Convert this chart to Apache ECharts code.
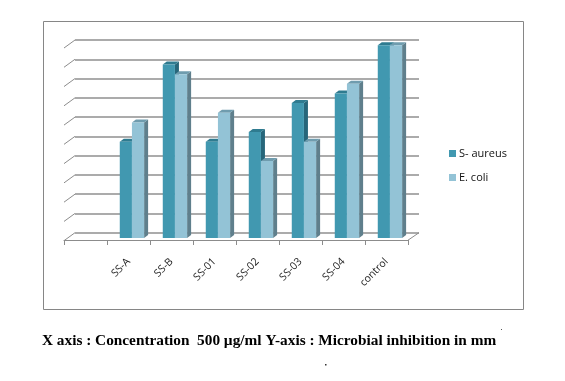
<!DOCTYPE html>
<html><head><meta charset="utf-8">
<style>html,body{margin:0;padding:0;background:#fff}#c{width:565px;height:381px}</style>
<script src="https://cdn.jsdelivr.net/npm/echarts@6/dist/echarts.min.js"></script>
</head><body><div id="c"></div>
<script>
const categories = ['', 'SS-A', 'SS-B', 'SS-01', 'SS-02', 'SS-03', 'SS-04', 'control'];
const sAureus = [null, 5, 9, 5, 5.5, 7, 7.5, 10];
const eColi = [null, 6, 8.5, 6.5, 4, 5, 8, 10];
const gridValues = [0, 1, 2, 3, 4, 5, 6, 7, 8, 9, 10];
const caption = 'X axis : Concentration  500 µg/ml Y-axis : Microbial inhibition in mm';

const DX = 4, DY = 3;
function bar(colors, side) {
  return function (params, api) {
    if (api.value(1) == null || isNaN(api.value(1))) return;
    const band = api.size([1, 0])[0];
    const w = band * 0.283;
    const p0 = api.coord([api.value(0), 0]);
    const p1 = api.coord([api.value(0), api.value(1)]);
    const cx = p0[0] + band * 0.08;
    const x = side < 0 ? cx - w : cx;
    const yb = p0[1] - 2, yt = p1[1] - 2;
    return { type: 'group', children: [
      { type: 'polygon', shape: { points: [[x + w, yt], [x + w + DX, yt - DY], [x + w + DX, yb - DY], [x + w, yb]] }, style: { fill: colors[2] } },
      { type: 'polygon', shape: { points: [[x, yt], [x + DX, yt - DY], [x + w + DX, yt - DY], [x + w, yt]] }, style: { fill: colors[1] } },
      { type: 'rect', shape: { x: x, y: yt, width: w, height: yb - yt }, style: { fill: colors[0] } }
    ] };
  };
}
function wallDiagonal(params, api) {
  const band = api.size([1, 0])[0];
  const c = api.coord([0, api.value(0)]);
  const p = [c[0] - band / 2, c[1]];
  const lines = [{ type: 'line', shape: { x1: p[0] - 11, y1: p[1] + 8, x2: p[0], y2: p[1] }, style: { stroke: '#8c8c8c', lineWidth: 1 } }];
  if (api.value(0) === 0) {
    const r = p[0] + band * categories.length;
    lines.push({ type: 'line', shape: { x1: r - 11, y1: p[1] + 7.5, x2: r, y2: p[1] }, style: { stroke: '#8c8c8c', lineWidth: 1 } });
  }
  return { type: 'group', children: lines };
}
const chart = echarts.init(document.getElementById('c'), null, { renderer: 'canvas' });
chart.setOption({
  animation: false,
  backgroundColor: '#fff',
  title: {
    text: caption, left: 37, top: 329,
    textStyle: { fontFamily: 'Liberation Serif', fontWeight: 'bold', fontSize: 15.3, color: '#000' }
  },
  legend: {
    orient: 'vertical', left: 444, top: 143, itemWidth: 7, itemHeight: 7, itemGap: 13,
    icon: 'rect', data: ['S- aureus', 'E. coli'],
    textStyle: { fontFamily: 'Open Sans', fontSize: 11, color: '#111', padding: [0, 0, 0, -2] }
  },
  grid: [
    { left: 75, top: 40, width: 344, height: 192.7 },
    { left: 64, top: 47.3, width: 344, height: 192.7 }
  ],
  xAxis: [
    { gridIndex: 0, type: 'category', data: categories, axisLine: { show: false }, axisTick: { show: false }, axisLabel: { show: false } },
    { gridIndex: 1, type: 'category', data: categories, boundaryGap: true,
      axisLine: { lineStyle: { color: '#8c8c8c', width: 1 } },
      axisTick: { show: true, length: 5, alignWithLabel: false, lineStyle: { color: '#8c8c8c' } },
      axisLabel: { interval: 0, rotate: 45, margin: 20, fontFamily: 'Open Sans', fontSize: 10.5, color: '#222' } }
  ],
  yAxis: [
    { gridIndex: 0, type: 'value', min: 0, max: 10, interval: 1, axisLine: { show: false }, axisTick: { show: false }, axisLabel: { show: false },
      splitLine: { lineStyle: { color: '#8f8f8f', width: 1.5 } } },
    { gridIndex: 1, type: 'value', min: 0, max: 10, interval: 1, axisLine: { show: false }, axisTick: { show: false }, axisLabel: { show: false }, splitLine: { show: false } }
  ],
  series: [
    { type: 'custom', name: 'walls', xAxisIndex: 0, yAxisIndex: 0, clip: false, silent: true, z: 1,
      data: gridValues.map(v => [v]), encode: { y: 0 }, renderItem: wallDiagonal },
    { type: 'custom', name: 'S- aureus', xAxisIndex: 1, yAxisIndex: 1, clip: false, z: 3,
      itemStyle: { color: '#4198b0' },
      data: categories.map((c, i) => [i, sAureus[i]]), encode: { x: 0, y: 1 },
      renderItem: bar(['#4198b0', '#2f7b90', '#27667a'], -1) },
    { type: 'custom', name: 'E. coli', xAxisIndex: 1, yAxisIndex: 1, clip: false, z: 4,
      itemStyle: { color: '#93c3d6' },
      data: categories.map((c, i) => [i, eColi[i]]), encode: { x: 0, y: 1 },
      renderItem: bar(['#93c3d6', '#6f9cae', '#5f7f8c'], 1) }
  ],
  graphic: [
    { type: 'rect', silent: true, z: 0, shape: { x: 43.5, y: 21.5, width: 480, height: 288 }, style: { fill: 'none', stroke: '#868686', lineWidth: 1 } },
    { type: 'rect', silent: true, shape: { x: 501, y: 329, width: 1, height: 1 }, style: { fill: '#555' } },
    { type: 'rect', silent: true, shape: { x: 325, y: 364, width: 1.5, height: 1.5 }, style: { fill: '#333' } }
  ]
});
</script></body></html>
